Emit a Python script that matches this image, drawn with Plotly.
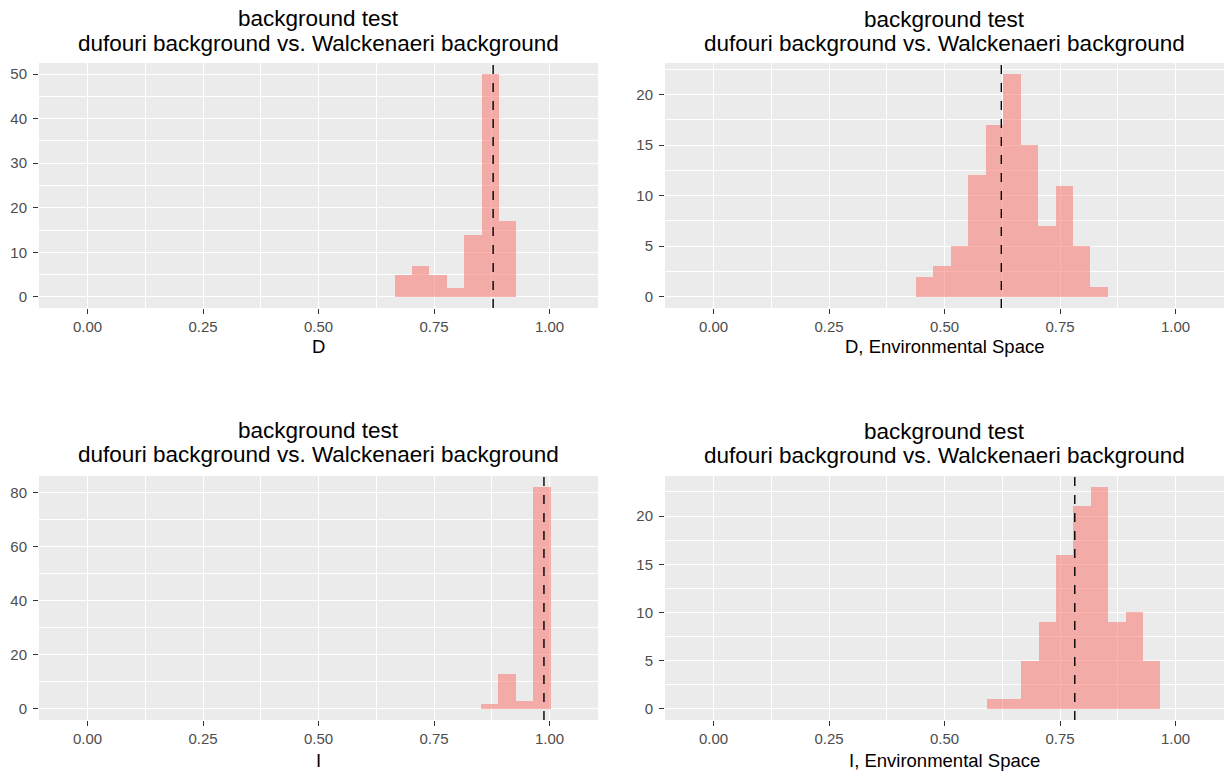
import plotly.graph_objects as go

# ---------------- data ----------------
titles_line1 = ["background test"] * 4
titles_line2 = ["dufouri background vs. Walckenaeri background"] * 4
x_titles = ["D", "D, Environmental Space", "I", "I, Environmental Space"]

# histogram bins: first bin left edge, bin width, counts; observed value (dashed line)
d_bin_start, d_bin_width = 0.665, 0.0376
d_counts = [5, 7, 5, 2, 14, 50, 17]
d_obs = 0.878

de_bin_start, de_bin_width = 0.438, 0.0378
de_counts = [2, 3, 5, 12, 17, 22, 15, 7, 11, 5, 1]
de_obs = 0.623

i_bin_start, i_bin_width = 0.852, 0.0376
i_counts = [2, 13, 3, 82]
i_obs = 0.988

ie_bin_start, ie_bin_width = 0.591, 0.0376
ie_counts = [1, 1, 5, 9, 16, 21, 23, 9, 10, 5]
ie_obs = 0.782

x_tick_vals = [0.0, 0.25, 0.5, 0.75, 1.0]
x_tick_text = ["0.00", "0.25", "0.50", "0.75", "1.00"]
y_dticks = [10, 5, 20, 5]

panels = [
    (d_bin_start, d_bin_width, d_counts, d_obs),
    (de_bin_start, de_bin_width, de_counts, de_obs),
    (i_bin_start, i_bin_width, i_counts, i_obs),
    (ie_bin_start, ie_bin_width, ie_counts, ie_obs),
]

# ---------------- layout geometry ----------------
W, H = 1227, 771
px_x = [(39, 598), (665, 1224), (39, 598), (665, 1224)]
px_y = [(63, 308), (63, 308), (476, 720), (476, 720)]
title_y = [(18, 43), (19, 43), (430, 454), (431, 455)]
xlab_y = [347, 347, 760, 760]

FONT = "Liberation Sans, Arial, sans-serif"
fill = "rgba(248,118,109,0.55)"

fig = go.Figure()
layout = dict(
    width=W, height=H,
    margin=dict(l=0, r=0, t=0, b=0),
    paper_bgcolor="white",
    plot_bgcolor="#EBEBEB",
    showlegend=False,
    font=dict(family=FONT, color="black"),
    bargap=0,
)
annotations = []
shapes = []

for k, (start, width, counts, obs) in enumerate(panels):
    n = k + 1
    xa = "x" if n == 1 else f"x{n}"
    ya = "y" if n == 1 else f"y{n}"
    centers = [start + width * (i + 0.5) for i in range(len(counts))]
    fig.add_trace(go.Bar(
        x=centers, y=counts, width=[width] * len(counts),
        marker=dict(color=fill, line=dict(width=0)),
        xaxis=xa, yaxis=ya, hoverinfo="x+y",
    ))
    ymax = max(counts)
    x0, x1 = px_x[k]
    ytop, ybot = px_y[k]
    xdom = [x0 / W, x1 / W]
    ydom = [1 - ybot / H, 1 - ytop / H]
    common = dict(
        showgrid=True, gridcolor="white", gridwidth=1.3,
        zeroline=False, showline=False,
        ticks="outside", ticklen=5, tickwidth=1.2, tickcolor="#333333",
        tickfont=dict(family=FONT, size=15, color="#4D4D4D"),
    )
    layout["xaxis" if n == 1 else f"xaxis{n}"] = dict(
        common, domain=xdom, anchor=ya, range=[-0.105, 1.105],
        tickvals=x_tick_vals, ticktext=x_tick_text,
        minor=dict(tick0=0.125, dtick=0.25, showgrid=True, gridcolor="white", gridwidth=0.6),
    )
    dt = y_dticks[k]
    layout["yaxis" if n == 1 else f"yaxis{n}"] = dict(
        common, domain=ydom, anchor=xa, range=[-0.05 * ymax, 1.05 * ymax],
        tick0=0, dtick=dt, ticklabelstandoff=3,
        minor=dict(tick0=dt / 2, dtick=dt, showgrid=True, gridcolor="white", gridwidth=0.6),
    )
    shapes.append(dict(
        type="line", xref=xa, yref=f"{ya} domain", x0=obs, x1=obs, y0=0, y1=1,
        line=dict(color="black", width=1.4, dash="dash"),
    ))
    cx = (x0 + x1) / 2 / W
    for txt, ty in zip((titles_line1[k], titles_line2[k]), title_y[k]):
        annotations.append(dict(
            text=txt, x=cx, y=1 - ty / H, xref="paper", yref="paper",
            xanchor="center", yanchor="middle", showarrow=False,
            font=dict(family=FONT, size=22.5, color="black"),
        ))
    annotations.append(dict(
        text=x_titles[k], x=cx, y=1 - xlab_y[k] / H, xref="paper", yref="paper",
        xanchor="center", yanchor="middle", showarrow=False,
        font=dict(family=FONT, size=18.5, color="black"),
    ))

layout["annotations"] = annotations
layout["shapes"] = shapes
fig.update_layout(**layout)
fig.write_html(
    "out.html",
    config={"displayModeBar": False},
    post_script="document.body.style.margin='0';document.body.style.overflow='hidden';",
)
